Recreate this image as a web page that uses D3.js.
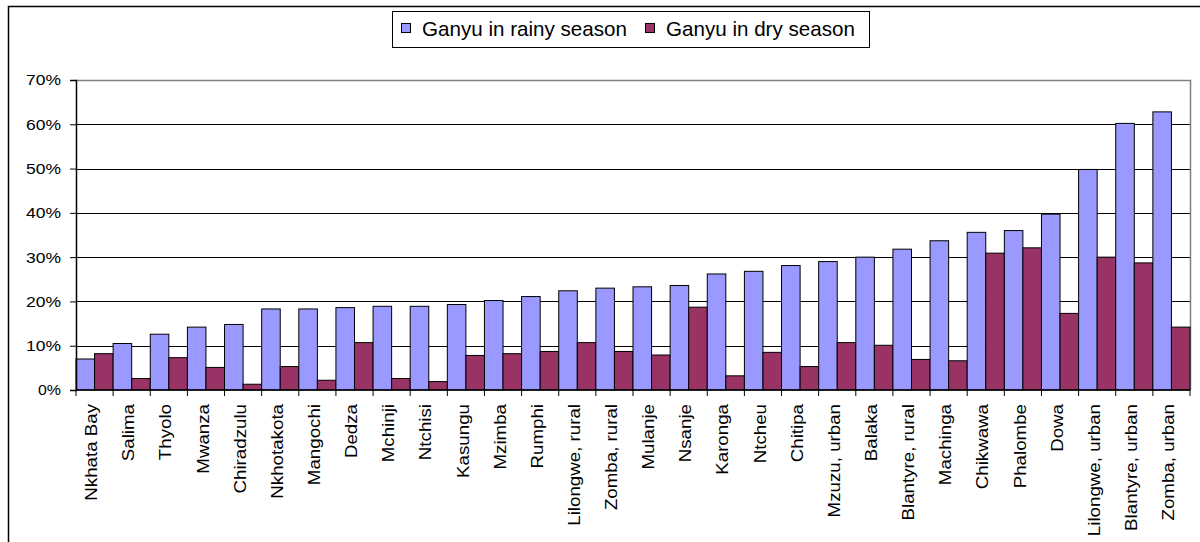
<!DOCTYPE html>
<html>
<head>
<meta charset="utf-8">
<script src="https://cdn.jsdelivr.net/npm/d3@7"></script>
<style>
  body { margin: 0; background: #fff; }
  svg { display: block; font-family: "Liberation Sans", Arial, sans-serif; }
</style>
</head>
<body>
<svg id="chart" width="1200" height="542"></svg>
<script>
// districts, sorted by rainy season share
var districts = ["Nkhata Bay", "Salima", "Thyolo", "Mwanza", "Chiradzulu", "Nkhotakota",
  "Mangochi", "Dedza", "Mchinji", "Ntchisi", "Kasungu", "Mzimba", "Rumphi",
  "Lilongwe, rural", "Zomba, rural", "Mulanje", "Nsanje", "Karonga", "Ntcheu",
  "Chitipa", "Mzuzu, urban", "Balaka", "Blantyre, rural", "Machinga", "Chikwawa",
  "Phalombe", "Dowa", "Lilongwe, urban", "Blantyre, urban", "Zomba, urban"];

var rainy = [7.0, 10.5, 12.6, 14.2, 14.8, 18.3, 18.3, 18.6, 18.9, 18.9, 19.3, 20.2, 21.1,
  22.4, 23.0, 23.3, 23.6, 26.2, 26.8, 28.1, 29.0, 30.0, 31.8, 33.7, 35.6, 36.0, 39.7,
  49.8, 60.2, 62.8];

var dry = [8.2, 2.6, 7.3, 5.1, 1.3, 5.3, 2.2, 10.7, 2.6, 1.9, 7.8, 8.2, 8.7,
  10.7, 8.7, 7.9, 18.7, 3.2, 8.5, 5.3, 10.7, 10.1, 6.9, 6.6, 30.9, 32.1, 17.3,
  30.0, 28.7, 14.2];

var seriesNames = ["Ganyu in rainy season", "Ganyu in dry season"];
var seriesColors = ["#9999ff", "#993366"];
var yTicks = [0, 10, 20, 30, 40, 50, 60, 70];

var svg = d3.select("#chart");

// outer chart frame
svg.append("rect")
  .attr("x", 8.5).attr("y", 6.5)
  .attr("width", 1200).attr("height", 600)
  .attr("fill", "none").attr("stroke", "#000").attr("stroke-width", 1.5);

var plotLeft = 76, plotRight = 1190, plotTop = 80, plotBottom = 390;

var x = d3.scaleBand().domain(districts).range([plotLeft, plotRight]).padding(0);
var xs = d3.scaleBand().domain([0, 1]).range([0, x.bandwidth()]).padding(0);
var y = d3.scaleLinear().domain([0, 70]).range([plotBottom, plotTop]);

// gridlines
svg.append("g")
  .selectAll("line")
  .data(yTicks.filter(function(d) { return d > 0 && d < 70; }))
  .enter().append("line")
  .attr("x1", plotLeft).attr("x2", plotRight)
  .attr("y1", function(d) { return Math.round(y(d)) + 0.5; })
  .attr("y2", function(d) { return Math.round(y(d)) + 0.5; })
  .attr("stroke", "#000").attr("stroke-width", 1);

// plot area border (top + right)
svg.append("path")
  .attr("d", "M" + plotLeft + "," + (y(70) + 0.5) + "H" + (plotRight + 0.5) + "V" + plotBottom)
  .attr("fill", "none").attr("stroke", "#808080").attr("stroke-width", 1.5);

// bars
var groups = svg.append("g")
  .selectAll("g")
  .data(districts)
  .enter().append("g")
  .attr("transform", function(d) { return "translate(" + x(d) + ",0)"; });

groups.selectAll("rect")
  .data(function(d, i) { return [rainy[i], dry[i]]; })
  .enter().append("rect")
  .attr("x", function(d, j) { return xs(j); })
  .attr("y", function(d) { return y(d); })
  .attr("width", xs.bandwidth())
  .attr("height", function(d) { return plotBottom - y(d); })
  .attr("fill", function(d, j) { return seriesColors[j]; })
  .attr("stroke", "#000").attr("stroke-width", 1);

// y axis
var yAxis = d3.axisLeft(y)
  .tickValues(yTicks)
  .tickSize(6)
  .tickPadding(0)
  .tickFormat(function(d) { return d + "%"; });

svg.append("g")
  .attr("transform", "translate(" + plotLeft + ",0)")
  .call(yAxis)
  .call(function(g) {
    g.attr("font-size", null).attr("font-family", null);
    g.select(".domain").attr("stroke", "#000").attr("stroke-width", 1.5);
    g.selectAll(".tick line").attr("stroke", "#000");
    g.selectAll(".tick text")
      .attr("x", -15)
      .style("font-size", "15.5px")
      .attr("fill", "#000")
      .attr("textLength", function(d) { return d === 0 ? 23 : 35; })
      .attr("lengthAdjust", "spacingAndGlyphs");
  });

// x axis: ticks at category boundaries
var xAxis = d3.axisBottom(x).tickSize(0).tickPadding(0);
var xg = svg.append("g")
  .attr("transform", "translate(0," + plotBottom + ")")
  .call(xAxis);
xg.attr("font-size", null).attr("font-family", null);
xg.select(".domain").remove();
xg.append("line")
  .attr("x1", plotLeft).attr("x2", plotRight)
  .attr("y1", 0).attr("y2", 0)
  .attr("stroke", "#000").attr("stroke-width", 1.5);
xg.selectAll(".bound")
  .data(districts.concat([null]))
  .enter().append("line")
  .attr("class", "bound")
  .attr("x1", function(d, i) { return plotLeft + i * x.step(); })
  .attr("x2", function(d, i) { return plotLeft + i * x.step(); })
  .attr("y1", 0).attr("y2", 6)
  .attr("stroke", "#000");
xg.selectAll(".tick text")
  .style("font-size", "16px").attr("fill", "#000")
  .attr("text-anchor", "end")
  .attr("transform", "translate(-3,14) rotate(-90) scale(1.17,1)")
  .attr("dy", "0.35em")
  .attr("y", 0).attr("x", 0);

// legend
var legend = svg.append("g");
legend.append("rect")
  .attr("x", 392.5).attr("y", 11.5)
  .attr("width", 477).attr("height", 36)
  .attr("fill", "#fff").attr("stroke", "#000").attr("stroke-width", 1);

var legendX = [401, 645];
seriesNames.forEach(function(name, i) {
  legend.append("rect")
    .attr("x", legendX[i] + 0.5).attr("y", 23.5)
    .attr("width", 9).attr("height", 9)
    .attr("fill", seriesColors[i]).attr("stroke", "#000");
  legend.append("text")
    .attr("x", legendX[i] + 21).attr("y", 36)
    .style("font-size", "20.6px").attr("fill", "#000")
    .text(name);
});
</script>
</body>
</html>
